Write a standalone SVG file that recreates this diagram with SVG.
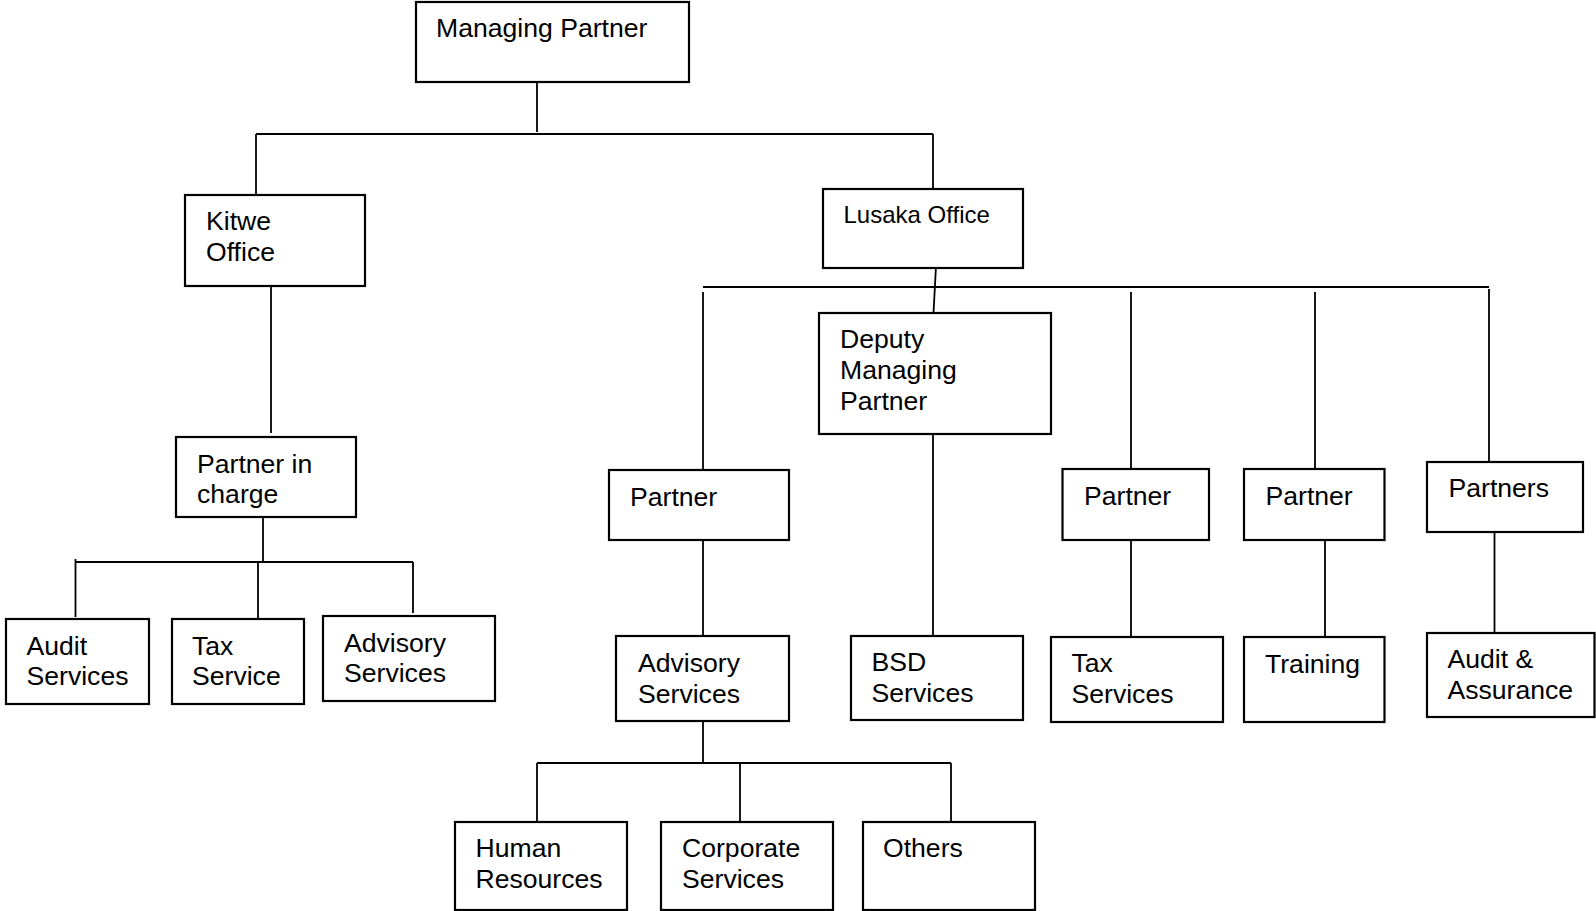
<svg xmlns="http://www.w3.org/2000/svg" width="1596" height="911" viewBox="0 0 1596 911">
<style>
.box{fill:#fff;stroke:#000;stroke-width:2.2}
.ln{stroke:#000;stroke-width:1.8;fill:none}
text{font-family:"Liberation Sans",Arial,sans-serif;font-size:26.6px;fill:#000}
.sm{font-size:24px}
</style>
<rect width="1596" height="911" fill="#fff"/>
<g id="connectors">
<path class="ln" d="M537,82V132M256,134H933M256,134V195M933,134V189"/>
<path class="ln" d="M271,286V433"/>
<path class="ln" d="M263,517V562M75.5,562H413M75.5,559V617M258,562V618M413,562V613"/>
<path class="ln" d="M936,266L933.5,313M703,287H1489M703,292V470M1131,292V469M1315,292V469M1489,289V467"/>
<path class="ln" d="M933,434V636M1131,540V637M1325,540V637M1494.5,532V633"/>
<path class="ln" d="M703,540V636M703,721V763M537,763H951M537,763V822M740,763V822M951,763V822"/>
</g>
<g id="managing-partner"><rect class="box" x="416" y="2" width="273" height="80"/><text x="436" y="37">Managing Partner</text></g>
<g id="kitwe-office"><rect class="box" x="185" y="195" width="180" height="91"/><text x="206" y="230">Kitwe</text><text x="206" y="261">Office</text></g>
<g id="partner-in-charge"><rect class="box" x="176" y="437" width="180" height="80"/><text x="197" y="473">Partner in</text><text x="197" y="503">charge</text></g>
<g id="audit-services"><rect class="box" x="6" y="619" width="143" height="85"/><text x="26.5" y="655">Audit</text><text x="26.5" y="685">Services</text></g>
<g id="tax-service"><rect class="box" x="172" y="619" width="132" height="85"/><text x="192" y="655">Tax</text><text x="192" y="685">Service</text></g>
<g id="advisory-services-kitwe"><rect class="box" x="323" y="616" width="172" height="85"/><text x="344" y="652">Advisory</text><text x="344" y="682">Services</text></g>
<g id="lusaka-office"><rect class="box" x="823" y="189" width="200" height="79"/><text class="sm" x="843.5" y="222.5">Lusaka Office</text></g>
<g id="deputy-managing-partner"><rect class="box" x="819" y="313" width="232" height="121"/><text x="840" y="348">Deputy</text><text x="840" y="379">Managing</text><text x="840" y="410">Partner</text></g>
<g id="partner-1"><rect class="box" x="609" y="470" width="180" height="70"/><text x="630" y="506">Partner</text></g>
<g id="partner-2"><rect class="box" x="1062.5" y="469" width="146.5" height="71"/><text x="1084" y="505">Partner</text></g>
<g id="partner-3"><rect class="box" x="1244" y="469" width="140.5" height="71"/><text x="1265.5" y="505">Partner</text></g>
<g id="partners"><rect class="box" x="1427" y="462" width="156" height="70"/><text x="1448.5" y="497">Partners</text></g>
<g id="advisory-services"><rect class="box" x="616" y="636" width="173" height="85"/><text x="638" y="672">Advisory</text><text x="638" y="703">Services</text></g>
<g id="bsd-services"><rect class="box" x="851" y="636" width="172" height="84"/><text x="871.5" y="671">BSD</text><text x="871.5" y="702">Services</text></g>
<g id="tax-services"><rect class="box" x="1051" y="637" width="172" height="85"/><text x="1071.5" y="672">Tax</text><text x="1071.5" y="703">Services</text></g>
<g id="training"><rect class="box" x="1244" y="637" width="140.5" height="85"/><text x="1265" y="673">Training</text></g>
<g id="audit-assurance"><rect class="box" x="1427" y="633" width="167.5" height="84"/><text x="1447.5" y="668">Audit &amp;</text><text x="1447.5" y="699">Assurance</text></g>
<g id="human-resources"><rect class="box" x="455" y="822" width="172" height="88"/><text x="475.5" y="857">Human</text><text x="475.5" y="888">Resources</text></g>
<g id="corporate-services"><rect class="box" x="661" y="822" width="172" height="88"/><text x="682" y="857">Corporate</text><text x="682" y="888">Services</text></g>
<g id="others"><rect class="box" x="863" y="822" width="172" height="88"/><text x="883" y="857">Others</text></g>
</svg>
